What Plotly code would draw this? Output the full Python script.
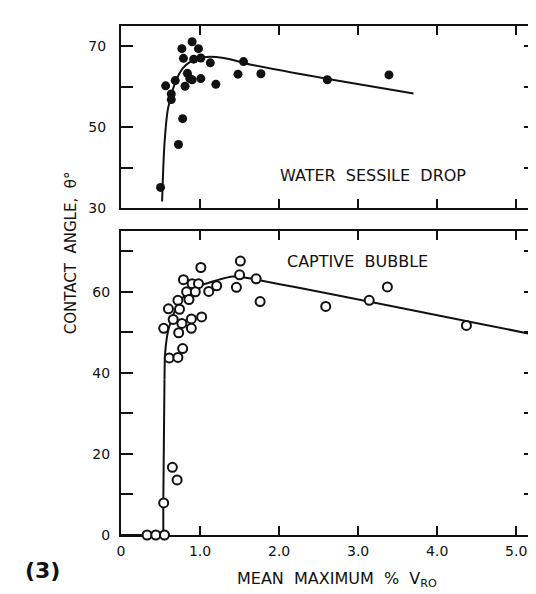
import plotly.graph_objects as go

# ---- data ----
# Top panel: water sessile drop (filled circles)
sessile_x = [0.50, 0.565, 0.636, 0.636, 0.686, 0.727, 0.78, 0.77, 0.79, 0.81, 0.84, 0.87,
             0.90, 0.92, 0.90, 0.98, 1.01, 1.01, 1.13, 1.20, 1.55, 1.48, 1.77, 2.61, 3.39]
sessile_y = [35.1, 60.2, 58.2, 56.8, 61.5, 45.7, 52.1, 69.4, 67.0, 60.1, 63.3, 62.0,
             71.1, 66.8, 61.7, 69.4, 67.1, 62.0, 65.9, 60.6, 66.2, 63.1, 63.2, 61.7, 62.9]
sessile_fit_x = [0.52, 0.53, 0.55, 0.59, 0.63, 0.68, 0.78, 0.88, 1.05, 1.30, 1.63, 2.62, 3.70]
sessile_fit_y = [31.6, 37.6, 45.9, 54.1, 57.4, 60.7, 64.5, 66.2, 67.3, 67.1, 65.5, 61.9, 58.3]

# Bottom panel: captive bubble (open circles)
bubble_x = [1.01, 1.51, 0.79, 0.90, 0.98, 0.83, 0.94, 1.11, 1.21, 1.50, 1.46, 1.71,
            0.72, 0.86, 0.60, 0.74, 0.66, 0.89, 1.02, 0.77, 0.54, 0.73, 0.89, 0.78,
            0.61, 0.72, 1.76, 2.59, 3.14, 3.37, 4.37,
            0.33, 0.44, 0.55, 0.54, 0.65, 0.71]
bubble_y = [66.0, 67.6, 63.0, 62.0, 62.0, 60.0, 60.0, 60.1, 61.5, 64.2, 61.1, 63.2,
            57.9, 58.1, 55.8, 55.7, 53.2, 53.3, 53.8, 52.2, 51.0, 49.9, 51.0, 46.0,
            43.7, 43.8, 57.6, 56.4, 57.9, 61.2, 51.7,
            0.0, 0.0, 0.0, 7.9, 16.7, 13.6]
bubble_step_x = [0.0, 0.535, 0.535, 0.55]
bubble_step_y = [0.0, 0.0, 8.0, 38.3]
bubble_fit_x = [0.55, 0.56, 0.60, 0.68, 0.80, 0.96, 1.17, 1.42, 1.71, 5.21]
bubble_fit_y = [38.3, 45.3, 50.7, 55.2, 59.0, 61.2, 62.6, 63.8, 63.0, 49.5]

x_ticks = [0, 1, 2, 3, 4, 5]
x_tick_labels = ["0", "1.0", "2.0", "3.0", "4.0", "5.0"]
top_y_ticks = [30, 50, 70]
top_y_labels = ["30", "50", "70"]
bot_y_ticks = [0, 20, 40, 60]
bot_y_labels = ["0", "20", "40", "60"]

INK = "#111111"
FONT = "DejaVu Sans"
NB = "\u00a0"

fig = go.Figure()

# top panel
fig.add_trace(go.Scatter(x=sessile_fit_x, y=sessile_fit_y, mode="lines",
                         line=dict(color=INK, width=2, shape="spline", smoothing=0.8),
                         xaxis="x2", yaxis="y2", hoverinfo="skip", cliponaxis=False))
fig.add_trace(go.Scatter(x=sessile_x, y=sessile_y, mode="markers",
                         marker=dict(symbol="circle", size=9, color=INK),
                         xaxis="x2", yaxis="y2", cliponaxis=False))

# bottom panel
fig.add_trace(go.Scatter(x=bubble_step_x, y=bubble_step_y, mode="lines",
                         line=dict(color=INK, width=2),
                         xaxis="x", yaxis="y", hoverinfo="skip", cliponaxis=False))
fig.add_trace(go.Scatter(x=bubble_fit_x, y=bubble_fit_y, mode="lines",
                         line=dict(color=INK, width=2, shape="spline", smoothing=0.8),
                         xaxis="x", yaxis="y", hoverinfo="skip", cliponaxis=False))
fig.add_trace(go.Scatter(x=bubble_x, y=bubble_y, mode="markers",
                         marker=dict(symbol="circle", size=9, color="white",
                                     line=dict(color=INK, width=2)),
                         xaxis="x", yaxis="y", cliponaxis=False))

axis_common = dict(showline=True, linecolor=INK, linewidth=2, mirror="ticks",
                   ticks="inside", tickcolor=INK, tickwidth=2, showgrid=False,
                   zeroline=False, layer="below traces",
                   tickfont=dict(family=FONT, size=14, color=INK))
y_minor = dict(ticks="inside", dtick=10, ticklen=12, tickwidth=2, tickcolor=INK,
               showgrid=False)

fig.update_layout(
    width=536, height=594,
    margin=dict(l=113, r=6, t=18, b=67),
    paper_bgcolor="white", plot_bgcolor="white",
    showlegend=False,
    xaxis=dict(domain=[0, 1], range=[0, 5.25], anchor="y",
               tickmode="array", tickvals=x_ticks, ticktext=x_tick_labels,
               ticklen=9, ticklabelstandoff=2, **axis_common),
    xaxis2=dict(domain=[0, 1], range=[0, 5.25], anchor="y2",
                tickmode="array", tickvals=x_ticks, showticklabels=False,
                ticklen=9, **axis_common),
    yaxis=dict(domain=[0, 0.5972], range=[0, 75], anchor="x",
               tickmode="array", tickvals=bot_y_ticks, ticktext=bot_y_labels,
               ticklen=12, ticklabelstandoff=6, minor=dict(tick0=0, **y_minor),
               **axis_common),
    yaxis2=dict(domain=[0.6424, 1], range=[30, 75], anchor="x2",
                tickmode="array", tickvals=top_y_ticks, ticktext=top_y_labels,
                ticklen=12, ticklabelstandoff=10, minor=dict(tick0=30, **y_minor),
                **axis_common),
    annotations=[
        dict(text="WATER" + NB * 2 + "SESSILE" + NB * 2 + "DROP", x=3.19, y=38,
             xref="x2", yref="y2", showarrow=False, xanchor="center", yanchor="middle",
             font=dict(family=FONT, size=16, color=INK)),
        dict(text="CAPTIVE" + NB * 2 + "BUBBLE", x=2.99, y=67.4,
             xref="x", yref="y", showarrow=False, xanchor="center", yanchor="middle",
             font=dict(family=FONT, size=16, color=INK)),
        dict(text="CONTACT" + NB * 2 + "ANGLE," + NB * 2 + "θ°", x=-0.12, y=0.554,
             xref="paper", yref="paper", showarrow=False, textangle=-90,
             xanchor="center", yanchor="middle",
             font=dict(family=FONT, size=15, color=INK)),
        dict(text="MEAN" + NB * 2 + "MAXIMUM" + NB * 2 + "%" + NB * 2 + "V<sub>RO</sub>",
             x=0.52, y=-0.088, xref="paper", yref="paper", showarrow=False,
             xanchor="center", yanchor="middle",
             font=dict(family=FONT, size=16, color=INK)),
        dict(text="<b>(3)</b>", x=-0.19, y=-0.07, xref="paper", yref="paper",
             showarrow=False, xanchor="center", yanchor="middle",
             font=dict(family=FONT, size=22, color=INK)),
    ],
)

fig.write_html("out.html")
